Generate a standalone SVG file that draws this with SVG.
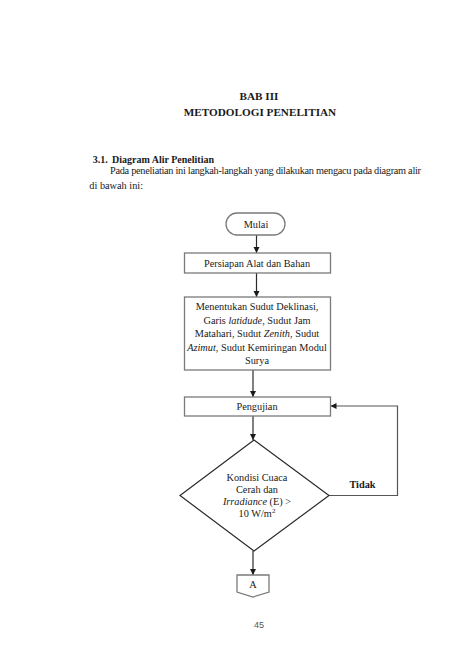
<svg xmlns="http://www.w3.org/2000/svg" width="474" height="669" viewBox="0 0 474 669">
<defs>
<style>
text{font-family:"Liberation Serif","Times New Roman",serif;fill:#1a1a1a}
.h{font-size:11.2px;font-weight:bold;text-anchor:middle}
.b{font-size:10.3px}
.n{font-size:10.3px;text-anchor:middle}
.box{fill:#fff;stroke:#7a7a7a;stroke-width:1.3}
.con{fill:none;stroke:#2a2a2a;stroke-width:1.2}
</style>
<marker id="ah" markerUnits="userSpaceOnUse" markerWidth="7" markerHeight="7" refX="6" refY="3" orient="auto">
<path d="M0,0 L6,3 L0,6 Z" fill="#1a1a1a"/>
</marker>
</defs>
<rect width="474" height="669" fill="#fff"/>
<g id="header">
<text class="h" x="259" y="100">BAB III</text>
<text class="h" x="260" y="115.7">METODOLOGI PENELITIAN</text>
<text class="b" x="92.7" y="162.5" font-weight="bold" style="font-size:10px">3.1.</text>
<text class="b" x="112" y="162.5" font-weight="bold" style="font-size:10px">Diagram Alir Penelitian</text>
<text class="b" x="110" y="173.5" textLength="311" lengthAdjust="spacing">Pada peneliatian ini langkah-langkah yang dilakukan mengacu pada diagram alir</text>
<text class="b" x="89.3" y="189">di bawah ini:</text>
</g>
<g id="connectors">
<line class="con" x1="256.5" y1="235" x2="256.5" y2="253" marker-end="url(#ah)"/>
<line class="con" x1="256.5" y1="273" x2="256.5" y2="297" marker-end="url(#ah)"/>
<line class="con" x1="253" y1="370" x2="253" y2="397" marker-end="url(#ah)"/>
<line class="con" x1="253" y1="416" x2="253" y2="440" marker-end="url(#ah)"/>
<line class="con" x1="253" y1="551" x2="253" y2="575" marker-end="url(#ah)"/>
<polyline class="con" points="329,495.5 397.5,495.5 397.5,406 330.5,406" marker-end="url(#ah)" style="stroke:#555"/>
<text x="362.5" y="488" style="font-size:10.3px;font-weight:bold;text-anchor:middle">Tidak</text>
</g>
<g id="mulai">
<rect class="box" x="226" y="213" width="59" height="22" rx="11"/>
<text class="n" x="256" y="227.5">Mulai</text>
</g>
<g id="persiapan">
<rect class="box" x="184.5" y="253" width="146" height="20"/>
<text class="n" x="257" y="266.5">Persiapan Alat dan Bahan</text>
</g>
<g id="menentukan">
<rect class="box" x="184.5" y="297" width="146" height="73"/>
<text class="n" x="257" y="310">Menentukan Sudut Deklinasi,</text>
<text class="n" x="257" y="323.5">Garis <tspan font-style="italic">latidude</tspan>, Sudut Jam</text>
<text class="n" x="257" y="337">Matahari, Sudut <tspan font-style="italic">Zenith</tspan>, Sudut</text>
<text class="n" x="257" y="350.5"><tspan font-style="italic">Azimut</tspan>, Sudut Kemiringan Modul</text>
<text class="n" x="257" y="364">Surya</text>
</g>
<g id="pengujian">
<rect class="box" x="184.5" y="397" width="146" height="19"/>
<text class="n" x="257" y="410">Pengujian</text>
</g>
<g id="kondisi">
<polygon points="254,440 329,495.5 254,551 180,495.5" style="fill:#fff;stroke:#2a2a2a;stroke-width:1.2"/>
<text class="n" x="257" y="481">Kondisi Cuaca</text>
<text class="n" x="257" y="493">Cerah dan</text>
<text class="n" x="257" y="505"><tspan font-style="italic">Irradiance</tspan> (E) &gt;</text>
<text class="n" x="257" y="517">10 W/m<tspan dy="-4" style="font-size:7px">2</tspan></text>
</g>
<g id="a">
<polygon class="box" points="237,575 269,575 269,592 253,597 237,592"/>
<text class="n" x="253" y="587.5">A</text>
</g>
<text x="259" y="628" style="font-family:'Liberation Sans',Arial,sans-serif;font-size:9px;fill:#555;text-anchor:middle">45</text>
</svg>
